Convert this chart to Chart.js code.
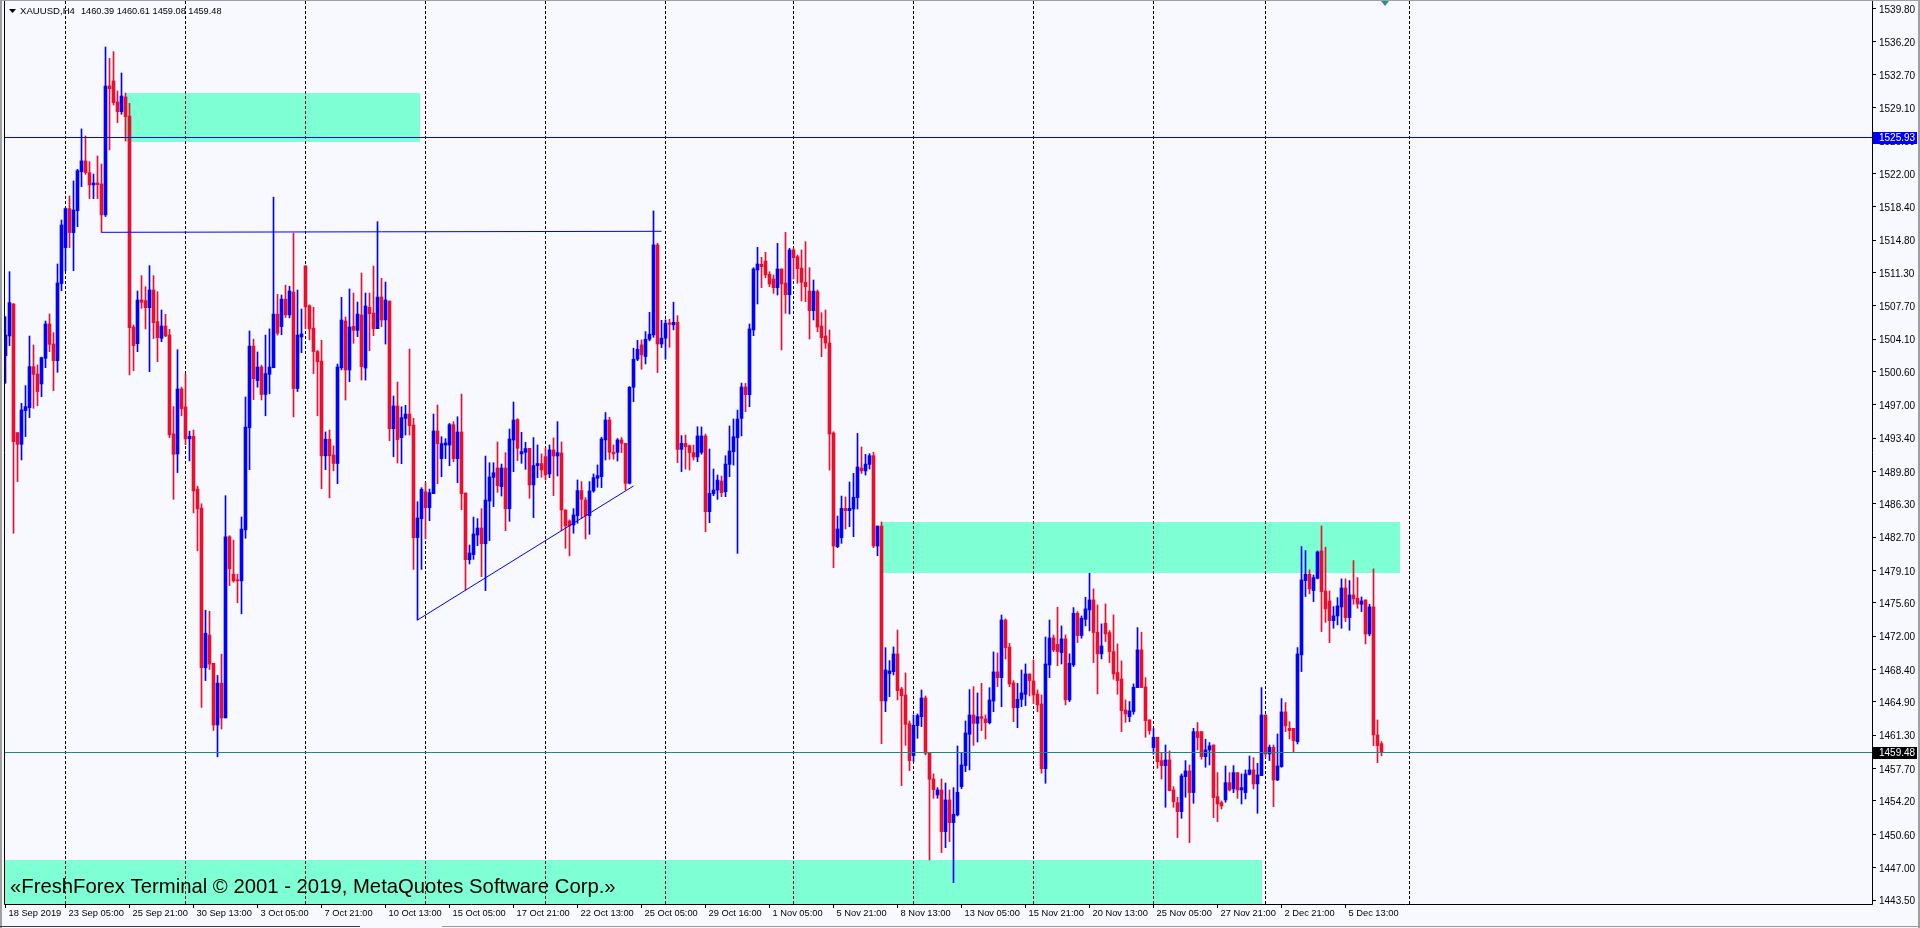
<!DOCTYPE html>
<html>
<head>
<meta charset="utf-8">
<script src="https://cdn.jsdelivr.net/npm/chart.js@4.4.0/dist/chart.umd.min.js"></script>
<style>
html, body { margin: 0; padding: 0; background: #f8f8ff; overflow: hidden; }
#c { position: absolute; left: 0; top: 0; }
</style>
</head>
<body>
<canvas id="c" width="1920" height="928"></canvas>
<script>
// --- Dados XAUUSD H4 ---
const barOpen = [
  1502.31, 1504.43, 1507.89, 1493.99, 1492.73, 1496.37, 1496.69, 1501.12, 1500.33, 1499.25,
  1502.02, 1505.73, 1503.57, 1501.77, 1510.09, 1513.98, 1518.19, 1515.60, 1517.97, 1522.19,
  1523.34, 1522.08, 1520.75, 1520.96, 1520.85, 1517.51, 1531.44, 1531.98, 1529.71, 1528.67,
  1530.25, 1528.20, 1505.40, 1503.60, 1508.32, 1508.25, 1507.49, 1509.40, 1505.98, 1504.18,
  1505.51, 1504.54, 1493.85, 1491.69, 1498.71, 1496.77, 1493.32, 1493.60, 1487.89, 1485.83,
  1468.59, 1472.12, 1469.07, 1462.41, 1466.93, 1463.17, 1482.74, 1478.70, 1478.06, 1477.98,
  1483.49, 1494.51, 1503.34, 1499.62, 1501.08, 1498.11, 1500.29, 1501.00, 1506.79, 1505.44,
  1508.41, 1506.71, 1509.17, 1498.75, 1504.33, 1511.98, 1507.70, 1505.28, 1502.75, 1501.72,
  1491.49, 1493.28, 1491.57, 1490.66, 1501.00, 1506.05, 1500.76, 1505.47, 1505.04, 1506.70,
  1500.97, 1507.53, 1506.91, 1505.22, 1508.64, 1506.16, 1508.21, 1494.42, 1496.87, 1493.45,
  1495.53, 1496.00, 1494.81, 1482.64, 1484.69, 1487.61, 1485.88, 1487.40, 1494.17, 1491.18,
  1492.65, 1492.65, 1494.85, 1491.18, 1494.06, 1487.47, 1480.27, 1480.81, 1482.93, 1483.69,
  1481.99, 1486.60, 1489.16, 1490.17, 1488.15, 1490.17, 1485.77, 1493.19, 1495.40, 1491.69,
  1491.87, 1492.30, 1488.34, 1490.43, 1490.65, 1491.40, 1489.53, 1492.12, 1491.47, 1491.80,
  1485.64, 1484.45, 1484.02, 1485.03, 1487.73, 1486.72, 1485.03, 1487.69, 1489.06, 1489.24,
  1493.20, 1495.36, 1491.87, 1491.87, 1493.20, 1492.84, 1488.52, 1498.89, 1501.92, 1503.47,
  1502.21, 1504.08, 1504.55, 1514.27, 1503.57, 1504.19, 1505.84, 1505.63, 1505.91, 1492.19,
  1492.83, 1492.58, 1491.83, 1491.36, 1491.86, 1493.63, 1485.45, 1487.40, 1487.79, 1488.76,
  1487.61, 1490.56, 1491.93, 1493.45, 1495.53, 1498.92, 1498.09, 1505.08, 1511.56, 1512.17,
  1512.53, 1511.09, 1510.59, 1509.65, 1511.67, 1510.15, 1508.89, 1513.72, 1513.00, 1511.77,
  1510.23, 1509.29, 1507.17, 1509.22, 1505.51, 1504.43, 1503.67, 1493.95, 1481.67, 1482.64,
  1485.81, 1485.56, 1485.74, 1486.96, 1490.17, 1489.85, 1490.56, 1491.50, 1481.74, 1483.90,
  1465.00, 1467.96, 1468.17, 1470.08, 1466.30, 1465.65, 1462.55, 1459.10, 1462.34, 1463.31,
  1465.33, 1459.35, 1456.58, 1454.85, 1455.39, 1450.89, 1454.31, 1451.86, 1452.69, 1455.75,
  1458.02, 1461.40, 1463.49, 1462.59, 1463.31, 1463.06, 1462.66, 1465.00, 1468.14, 1467.52,
  1473.75, 1470.84, 1466.95, 1464.28, 1465.18, 1465.72, 1467.92, 1467.16, 1465.76, 1464.68,
  1457.69, 1468.89, 1471.81, 1471.13, 1470.23, 1471.71, 1465.12, 1468.90, 1474.48, 1472.07,
  1473.83, 1474.84, 1475.92, 1472.43, 1470.09, 1473.40, 1472.39, 1470.34, 1468.07, 1467.38,
  1464.03, 1463.31, 1463.86, 1466.45, 1470.52, 1466.52, 1462.96, 1459.97, 1461.08, 1458.56,
  1458.02, 1458.63, 1455.39, 1454.02, 1453.05, 1456.83, 1457.45, 1455.11, 1461.69, 1461.69,
  1458.99, 1459.71, 1460.25, 1454.67, 1454.02, 1454.31, 1456.18, 1455.50, 1457.26, 1455.39,
  1455.10, 1457.08, 1457.55, 1456.04, 1456.94, 1463.49, 1459.28, 1460.00, 1456.47, 1457.91,
  1463.82, 1462.05, 1462.05, 1460.61, 1469.98, 1478.01, 1478.69, 1476.93, 1478.26, 1481.21,
  1476.89, 1475.81, 1473.68, 1474.19, 1475.16, 1477.21, 1474.01, 1476.46, 1476.10, 1475.45,
  1475.92, 1472.24, 1475.16, 1461.33, 1460.39
];
const barHigh = [
  1506.52, 1511.38, 1507.95, 1494.00, 1497.16, 1499.07, 1504.43, 1503.46, 1501.30, 1502.15,
  1506.05, 1506.81, 1504.79, 1512.21, 1516.96, 1518.25, 1519.56, 1521.18, 1522.44, 1526.80,
  1526.04, 1523.27, 1521.93, 1523.88, 1523.01, 1535.65, 1534.43, 1535.15, 1530.90, 1532.84,
  1530.68, 1529.57, 1505.62, 1509.29, 1510.95, 1509.76, 1512.03, 1510.95, 1509.22, 1507.24,
  1506.77, 1505.15, 1496.80, 1502.95, 1498.90, 1500.29, 1494.15, 1494.27, 1488.21, 1486.31,
  1474.81, 1474.70, 1469.07, 1467.76, 1470.06, 1487.18, 1482.86, 1482.38, 1478.70, 1484.88,
  1497.84, 1504.97, 1504.09, 1502.71, 1501.28, 1504.53, 1505.20, 1519.43, 1508.93, 1508.85,
  1509.92, 1509.80, 1515.54, 1509.40, 1507.34, 1512.06, 1507.80, 1507.54, 1502.87, 1503.97,
  1494.07, 1494.27, 1492.56, 1501.40, 1508.61, 1506.48, 1509.51, 1509.07, 1508.10, 1511.23,
  1509.07, 1509.07, 1511.99, 1516.78, 1510.66, 1510.26, 1508.21, 1497.95, 1499.46, 1496.79,
  1496.94, 1503.02, 1495.53, 1486.53, 1488.04, 1488.58, 1487.90, 1496.00, 1496.97, 1493.55,
  1493.34, 1494.99, 1495.17, 1495.71, 1498.16, 1487.47, 1481.85, 1484.87, 1484.70, 1485.77,
  1491.46, 1490.74, 1490.74, 1492.98, 1490.60, 1491.82, 1494.38, 1497.30, 1495.50, 1494.03,
  1492.95, 1492.30, 1493.46, 1492.66, 1491.69, 1492.30, 1492.66, 1493.42, 1495.18, 1492.99,
  1485.64, 1484.56, 1485.78, 1488.88, 1488.70, 1486.97, 1488.70, 1489.53, 1490.50, 1493.49,
  1496.16, 1495.65, 1492.66, 1493.35, 1493.46, 1492.84, 1498.97, 1503.11, 1503.97, 1504.01,
  1504.91, 1506.99, 1517.94, 1514.45, 1506.13, 1506.17, 1506.24, 1508.08, 1506.63, 1493.67,
  1493.73, 1492.65, 1492.65, 1494.63, 1494.60, 1493.84, 1492.22, 1490.06, 1489.41, 1489.30,
  1491.50, 1494.71, 1495.46, 1496.43, 1499.35, 1499.31, 1505.73, 1511.81, 1514.01, 1512.93,
  1513.47, 1511.38, 1511.02, 1514.44, 1511.67, 1515.63, 1513.90, 1513.90, 1513.18, 1513.72,
  1514.62, 1511.81, 1510.48, 1509.40, 1506.95, 1507.24, 1505.08, 1494.09, 1484.98, 1487.14,
  1487.04, 1488.66, 1489.59, 1493.91, 1492.44, 1491.65, 1491.72, 1491.86, 1483.90, 1484.34,
  1470.76, 1469.36, 1470.84, 1472.67, 1466.48, 1468.03, 1462.84, 1463.49, 1463.60, 1466.19,
  1465.54, 1459.35, 1457.12, 1455.64, 1456.58, 1456.14, 1455.39, 1455.64, 1460.14, 1459.42,
  1462.84, 1466.23, 1466.55, 1465.87, 1466.91, 1463.49, 1466.44, 1470.30, 1470.19, 1474.29,
  1473.86, 1471.23, 1467.20, 1466.91, 1468.35, 1469.00, 1467.92, 1469.43, 1466.19, 1465.65,
  1471.92, 1473.75, 1472.13, 1475.13, 1473.11, 1472.14, 1470.09, 1475.09, 1474.66, 1474.19,
  1476.21, 1478.80, 1477.11, 1475.38, 1473.33, 1475.49, 1472.61, 1474.30, 1471.17, 1469.33,
  1465.12, 1464.94, 1466.84, 1472.93, 1472.43, 1467.53, 1462.96, 1462.05, 1461.08, 1459.35,
  1460.25, 1459.61, 1455.75, 1454.60, 1457.12, 1458.56, 1458.09, 1462.05, 1462.67, 1461.69,
  1460.87, 1460.51, 1460.25, 1457.26, 1454.20, 1457.98, 1457.26, 1458.02, 1457.26, 1457.12,
  1457.55, 1459.06, 1458.88, 1458.27, 1466.45, 1463.49, 1460.25, 1460.25, 1461.44, 1465.26,
  1464.83, 1462.77, 1462.05, 1470.77, 1481.68, 1481.25, 1479.16, 1478.62, 1481.21, 1483.91,
  1481.61, 1476.89, 1475.20, 1476.17, 1478.19, 1478.19, 1478.01, 1480.17, 1478.33, 1476.24,
  1475.92, 1475.45, 1479.27, 1462.95, 1460.61
];
const barLow = [
  1499.32, 1503.39, 1483.12, 1488.70, 1491.04, 1493.56, 1495.61, 1496.62, 1496.91, 1497.88,
  1501.01, 1502.74, 1498.53, 1500.51, 1509.33, 1511.49, 1513.98, 1511.49, 1516.24, 1520.57,
  1521.90, 1519.27, 1519.27, 1519.27, 1515.63, 1517.33, 1524.53, 1529.39, 1527.48, 1528.38,
  1525.50, 1500.22, 1500.69, 1502.74, 1507.42, 1505.19, 1500.58, 1504.15, 1501.66, 1503.82,
  1504.36, 1493.45, 1486.79, 1489.67, 1495.81, 1492.69, 1490.94, 1485.32, 1481.23, 1464.31,
  1467.21, 1468.40, 1461.82, 1458.97, 1461.98, 1463.17, 1477.47, 1477.83, 1475.61, 1474.42,
  1482.58, 1489.99, 1497.56, 1498.90, 1497.52, 1495.81, 1498.19, 1501.00, 1504.53, 1504.57,
  1506.43, 1506.39, 1495.69, 1498.43, 1502.63, 1505.24, 1504.02, 1500.37, 1495.81, 1487.93,
  1489.99, 1486.94, 1489.87, 1488.48, 1500.77, 1497.51, 1499.49, 1503.64, 1504.36, 1499.67,
  1499.67, 1502.84, 1504.46, 1505.22, 1505.44, 1503.56, 1493.12, 1491.39, 1490.71, 1490.64,
  1493.73, 1493.73, 1479.22, 1473.75, 1479.22, 1482.50, 1484.48, 1487.40, 1488.48, 1489.23,
  1491.18, 1490.42, 1490.85, 1488.58, 1485.67, 1476.99, 1479.80, 1480.30, 1481.78, 1478.43,
  1476.92, 1482.32, 1485.99, 1487.54, 1487.14, 1483.40, 1484.41, 1489.77, 1490.97, 1490.68,
  1490.03, 1486.90, 1484.81, 1489.13, 1489.17, 1488.88, 1489.13, 1487.19, 1489.31, 1483.41,
  1481.50, 1480.67, 1483.12, 1484.20, 1484.74, 1482.51, 1483.01, 1487.55, 1488.09, 1488.05,
  1491.04, 1491.11, 1491.11, 1490.93, 1491.83, 1487.80, 1488.45, 1497.34, 1501.77, 1500.84,
  1501.41, 1503.90, 1504.29, 1500.48, 1503.18, 1501.92, 1503.21, 1505.09, 1490.75, 1489.78,
  1490.06, 1489.95, 1491.03, 1490.85, 1491.65, 1483.29, 1484.26, 1487.18, 1486.78, 1487.07,
  1487.07, 1489.23, 1490.49, 1480.95, 1493.63, 1496.26, 1496.79, 1504.46, 1507.89, 1509.65,
  1510.73, 1509.76, 1509.04, 1508.86, 1502.92, 1506.88, 1506.81, 1510.59, 1510.12, 1508.21,
  1508.14, 1504.10, 1506.16, 1504.90, 1502.20, 1503.10, 1489.95, 1479.40, 1481.56, 1482.03,
  1483.58, 1483.83, 1482.75, 1485.74, 1489.59, 1489.41, 1490.06, 1481.56, 1480.70, 1460.39,
  1463.85, 1465.47, 1467.81, 1465.11, 1455.86, 1460.21, 1457.48, 1458.45, 1460.97, 1462.23,
  1459.17, 1447.83, 1454.49, 1454.49, 1448.62, 1449.16, 1449.81, 1445.38, 1452.58, 1455.53,
  1457.37, 1457.55, 1460.21, 1460.57, 1461.80, 1460.90, 1462.52, 1463.85, 1466.55, 1464.39,
  1469.54, 1466.55, 1462.77, 1462.12, 1464.39, 1464.50, 1465.54, 1464.75, 1463.85, 1457.19,
  1456.11, 1467.52, 1470.33, 1468.82, 1469.00, 1464.58, 1464.94, 1468.72, 1471.31, 1471.78,
  1473.11, 1472.57, 1469.15, 1465.76, 1469.55, 1471.42, 1469.15, 1467.35, 1465.73, 1461.69,
  1462.70, 1462.77, 1463.57, 1466.45, 1466.45, 1461.08, 1461.41, 1459.25, 1457.73, 1456.58,
  1453.52, 1455.29, 1453.52, 1450.24, 1452.33, 1454.60, 1449.70, 1453.95, 1459.71, 1458.71,
  1457.84, 1458.09, 1452.40, 1451.97, 1453.34, 1454.06, 1455.28, 1455.10, 1454.49, 1453.88,
  1454.42, 1457.01, 1455.50, 1452.87, 1456.94, 1458.92, 1458.56, 1453.59, 1456.40, 1457.84,
  1461.69, 1460.90, 1459.53, 1460.36, 1468.18, 1476.28, 1476.57, 1475.74, 1478.19, 1472.50,
  1473.50, 1471.31, 1472.86, 1473.22, 1472.86, 1473.58, 1472.64, 1475.45, 1475.02, 1474.66,
  1471.16, 1472.03, 1460.18, 1458.34, 1459.08
];
const barClose = [
  1504.54, 1508.03, 1493.02, 1492.73, 1496.44, 1496.80, 1501.12, 1500.29, 1498.42, 1502.09,
  1505.73, 1503.53, 1501.77, 1510.16, 1516.42, 1518.19, 1515.60, 1518.04, 1522.29, 1523.34,
  1522.08, 1520.75, 1520.96, 1520.78, 1517.51, 1531.44, 1531.15, 1529.64, 1528.67, 1530.36,
  1528.13, 1505.33, 1503.39, 1508.32, 1508.07, 1507.49, 1509.40, 1505.87, 1504.25, 1505.51,
  1504.43, 1493.74, 1491.65, 1498.71, 1496.57, 1493.32, 1493.60, 1487.69, 1485.75, 1468.59,
  1472.32, 1468.99, 1462.41, 1466.93, 1463.17, 1482.74, 1479.29, 1477.98, 1477.98, 1483.57,
  1494.59, 1503.34, 1499.82, 1501.08, 1498.11, 1500.37, 1501.08, 1506.79, 1504.73, 1508.41,
  1506.71, 1509.29, 1498.75, 1504.53, 1504.65, 1507.58, 1505.20, 1502.75, 1501.64, 1491.49,
  1493.28, 1491.49, 1490.66, 1501.08, 1506.16, 1500.76, 1505.40, 1505.04, 1506.80, 1501.12,
  1507.67, 1506.84, 1505.22, 1508.64, 1506.16, 1508.32, 1494.42, 1496.87, 1493.23, 1495.61,
  1496.00, 1494.74, 1482.64, 1484.77, 1487.86, 1485.88, 1487.50, 1494.17, 1492.80, 1492.80,
  1492.87, 1494.85, 1491.18, 1494.06, 1487.40, 1480.27, 1480.99, 1483.04, 1483.69, 1481.99,
  1486.71, 1489.20, 1489.66, 1488.26, 1490.17, 1485.77, 1493.30, 1495.35, 1492.30, 1491.94,
  1492.27, 1488.34, 1490.43, 1490.65, 1489.96, 1489.42, 1492.12, 1491.47, 1491.83, 1485.64,
  1483.91, 1483.91, 1485.10, 1487.73, 1486.79, 1485.03, 1487.69, 1489.13, 1489.35, 1493.31,
  1495.36, 1491.87, 1491.69, 1493.20, 1492.84, 1488.52, 1498.89, 1501.92, 1503.00, 1502.39,
  1504.08, 1504.62, 1514.27, 1503.57, 1504.19, 1505.81, 1505.70, 1505.91, 1492.19, 1492.84,
  1492.47, 1491.83, 1491.36, 1493.63, 1493.63, 1485.45, 1487.43, 1487.79, 1488.87, 1487.50,
  1490.60, 1492.01, 1493.55, 1495.46, 1498.92, 1498.09, 1505.19, 1511.67, 1512.21, 1511.92,
  1511.02, 1510.05, 1509.65, 1511.67, 1510.05, 1508.89, 1513.72, 1512.89, 1511.70, 1510.23,
  1509.76, 1507.17, 1509.29, 1505.40, 1504.25, 1503.67, 1493.84, 1481.74, 1483.58, 1485.81,
  1485.56, 1485.81, 1487.00, 1490.28, 1489.85, 1490.60, 1491.50, 1481.74, 1483.90, 1465.00,
  1468.35, 1468.24, 1470.08, 1466.12, 1465.58, 1462.48, 1458.56, 1462.37, 1463.42, 1465.33,
  1459.35, 1456.54, 1455.42, 1455.39, 1450.89, 1454.31, 1451.86, 1452.76, 1455.14, 1458.09,
  1461.55, 1463.49, 1462.59, 1463.31, 1463.13, 1462.66, 1465.11, 1468.14, 1467.52, 1473.75,
  1470.76, 1466.84, 1464.28, 1465.18, 1465.87, 1467.92, 1467.20, 1465.65, 1464.57, 1457.69,
  1469.00, 1471.81, 1470.51, 1470.34, 1471.71, 1465.12, 1469.08, 1474.48, 1472.07, 1473.94,
  1474.95, 1475.92, 1472.39, 1470.09, 1470.95, 1472.25, 1470.34, 1467.92, 1467.20, 1463.96,
  1463.60, 1463.93, 1466.48, 1470.52, 1466.45, 1462.88, 1461.80, 1461.08, 1458.45, 1458.02,
  1458.63, 1455.32, 1454.13, 1453.05, 1456.91, 1457.45, 1455.11, 1461.69, 1461.05, 1458.99,
  1459.71, 1460.15, 1454.56, 1453.88, 1453.66, 1456.18, 1455.39, 1457.26, 1455.39, 1455.64,
  1457.12, 1457.55, 1456.04, 1457.01, 1463.49, 1459.28, 1460.00, 1456.47, 1457.98, 1463.82,
  1462.31, 1461.80, 1460.72, 1470.08, 1478.08, 1478.69, 1477.11, 1478.33, 1481.10, 1476.82,
  1474.95, 1473.68, 1474.19, 1475.27, 1477.21, 1474.01, 1476.46, 1476.03, 1475.49, 1475.81,
  1472.24, 1475.16, 1461.33, 1460.18, 1459.48
];

// eixo do tempo: índice da barra -> rótulo
const timeTickIdx = [0, 15, 31, 47, 63, 79, 95, 111, 127, 143, 159, 175, 191, 207, 223, 239, 255, 271, 287, 303, 319, 335];
const timeTickText = ['18 Sep 2019', '23 Sep 05:00', '25 Sep 21:00', '30 Sep 13:00', '3 Oct 05:00', '7 Oct 21:00',
  '10 Oct 13:00', '15 Oct 05:00', '17 Oct 21:00', '22 Oct 13:00', '25 Oct 05:00', '29 Oct 16:00', '1 Nov 05:00',
  '5 Nov 21:00', '8 Nov 13:00', '13 Nov 05:00', '15 Nov 21:00', '20 Nov 13:00', '25 Nov 05:00', '27 Nov 21:00',
  '2 Dec 21:00', '5 Dec 13:00'];
const weekGridIdx = [15, 45, 75, 105, 135, 165, 197, 227, 257, 287, 315, 351];
const priceTicks = [1539.80, 1536.20, 1532.70, 1529.10, 1525.50, 1522.00, 1518.40, 1514.80, 1511.30, 1507.70,
  1504.10, 1500.60, 1497.00, 1493.40, 1489.80, 1486.30, 1482.70, 1479.10, 1475.60, 1472.00, 1468.40,
  1464.90, 1461.30, 1457.70, 1454.20, 1450.60, 1447.00, 1443.50];

// objetos desenhados no gráfico (barra / preço)
const levelPrice = 1525.93;
const zones = [
  { from: 30, to: 103.6, top: 1530.68, bottom: 1525.42 },
  { from: 219, to: 348.5, top: 1484.34, bottom: 1478.86 },
  { from: -5, to: 314, top: 1447.83, bottom: 1440.00 }
];
const trendLines = [
  { x1: 24, y1: 1515.63, x2: 164, y2: 1515.74 },
  { x1: 103, y1: 1473.75, x2: 157, y2: 1488.23 }
];
const footerText = '\u00abFreshForex Terminal \u00a9 2001 - 2019, MetaQuotes Software Corp.\u00bb';

// --- Estilo ---
const BG = '#f8f8ff';
const BULL = '#0000ff';
const BEAR = '#e8102e';
const ZONE = '#7fffd4';
const BID = '#20877d';
const FONT = '"Liberation Sans", Arial, sans-serif';

Chart.defaults.font.family = FONT;
Chart.defaults.font.size = 10;
Chart.defaults.color = '#000';

const idx = barOpen.map((_, i) => i);
const last = barOpen.length - 1;
const candleColor = idx.map(i => barClose[i] >= barOpen[i] ? BULL : BEAR);

const overlay = {
    id: 'overlay',
    beforeDraw(chart) {
        const { ctx, width, height } = chart;
        ctx.save();
        ctx.fillStyle = BG;
        ctx.fillRect(0, 0, width, height);
        ctx.restore();
    },
    beforeDatasetsDraw(chart) {
        const { ctx, chartArea: a, scales: { x, y } } = chart;
        ctx.save();
        ctx.beginPath();
        ctx.rect(a.left, a.top, a.right - a.left, a.bottom - a.top);
        ctx.clip();

        const boxes = zones.map(z => {
            const x1 = Math.round(x.getPixelForValue(z.from));
            const x2 = Math.round(x.getPixelForValue(z.to));
            const y1 = Math.round(y.getPixelForValue(z.top));
            const y2 = Math.round(y.getPixelForValue(z.bottom));
            return { x1, x2, y1, y2 };
        });
        ctx.fillStyle = ZONE;
        boxes.forEach(b => ctx.fillRect(b.x1, b.y1, b.x2 - b.x1, b.y2 - b.y1));

        // grade semanal pontilhada
        ctx.lineWidth = 1;
        ctx.setLineDash([3, 2]);
        weekGridIdx.forEach(g => {
            const px = Math.floor(x.getPixelForValue(g)) + 0.5;
            ctx.strokeStyle = '#000';
            ctx.beginPath();
            ctx.moveTo(px, a.top);
            ctx.lineTo(px, a.bottom);
            ctx.stroke();
            boxes.forEach(b => {
                if (px > b.x1 && px < b.x2) {
                    ctx.save();
                    ctx.beginPath();
                    ctx.rect(b.x1, b.y1, b.x2 - b.x1, b.y2 - b.y1);
                    ctx.clip();
                    ctx.strokeStyle = '#8a0a14';
                    ctx.beginPath();
                    ctx.moveTo(px, a.top);
                    ctx.lineTo(px, a.bottom);
                    ctx.stroke();
                    ctx.restore();
                }
            });
        });
        ctx.restore();
    },
    afterDatasetsDraw(chart) {
        const { ctx, chartArea: a, scales: { x, y } } = chart;
        ctx.save();
        ctx.beginPath();
        ctx.rect(a.left, a.top, a.right - a.left, a.bottom - a.top);
        ctx.clip();
        ctx.lineWidth = 1;

        // linha horizontal
        let py = Math.round(y.getPixelForValue(levelPrice)) + 0.5;
        ctx.strokeStyle = BULL;
        ctx.beginPath(); ctx.moveTo(a.left, py); ctx.lineTo(a.right, py); ctx.stroke();

        // linha do bid
        py = Math.round(y.getPixelForValue(barClose[last])) + 0.5;
        ctx.strokeStyle = BID;
        ctx.beginPath(); ctx.moveTo(a.left, py); ctx.lineTo(a.right, py); ctx.stroke();

        // linhas de tendência
        ctx.strokeStyle = BULL;
        trendLines.forEach(t => {
            ctx.beginPath();
            ctx.moveTo(x.getPixelForValue(t.x1), y.getPixelForValue(t.y1));
            ctx.lineTo(x.getPixelForValue(t.x2), y.getPixelForValue(t.y2));
            ctx.stroke();
        });

        // texto
        ctx.fillStyle = '#000';
        ctx.font = '20.3px ' + FONT;
        ctx.textBaseline = 'middle';
        ctx.textAlign = 'left';
        ctx.fillText(footerText, 10, 887);
        ctx.restore();
    },
    afterDraw(chart) {
        const { ctx, chartArea: a, scales: { y }, width, height } = chart;
        ctx.save();
        // moldura
        ctx.strokeStyle = '#000';
        ctx.lineWidth = 1;
        ctx.beginPath();
        ctx.moveTo(a.left + 0.5, 0);
        ctx.lineTo(a.left + 0.5, a.bottom + 0.5);
        ctx.lineTo(a.right + 0.5, a.bottom + 0.5);
        ctx.lineTo(a.right + 0.5, 0);
        ctx.stroke();
        // borda da janela
        ctx.fillStyle = '#a0a0a0';
        ctx.fillRect(0, 0, 2, height);
        ctx.fillRect(0, 0, width, 1);
        ctx.fillRect(width - 2, 0, 2, height);
        ctx.fillStyle = '#3a3a3a';
        ctx.fillRect(0, height - 2, 360, 1);
        ctx.fillStyle = '#9a9a9a';
        ctx.fillRect(442, height - 2, width - 442, 1);

        // caixas de preço no eixo
        ctx.font = '10px ' + FONT;
        ctx.textBaseline = 'middle';
        ctx.textAlign = 'left';
        [[levelPrice, BULL], [barClose[last], '#000']].forEach(([p, c]) => {
            const py = Math.round(y.getPixelForValue(p));
            ctx.fillStyle = c;
            ctx.fillRect(a.right + 1, py - 5, 44, 12);
            ctx.fillStyle = '#fff';
            ctx.fillText(p.toFixed(2), a.right + 7, py + 1.5);
        });

        // cabeçalho
        ctx.fillStyle = '#000';
        ctx.beginPath();
        ctx.moveTo(9, 9); ctx.lineTo(16, 9); ctx.lineTo(12.5, 13); ctx.closePath();
        ctx.fill();
        ctx.font = '9.6px ' + FONT;
        ctx.fillText('XAUUSD,H4', 20, 11.5);
        const vals = [barOpen[last], barHigh[last], barLow[last], barClose[last]].map(v => v.toFixed(2)).join(' ');
        ctx.font = '9.2px ' + FONT;
        ctx.fillText(vals, 81, 11.5);

        // marcador de deslocamento
        ctx.fillStyle = '#2f8f86';
        ctx.beginPath();
        ctx.moveTo(1381, 1); ctx.lineTo(1389, 1); ctx.lineTo(1385, 6); ctx.closePath();
        ctx.fill();
        ctx.restore();
    }
};

new Chart(document.getElementById('c'), {
    type: 'bar',
    data: {
        datasets: [
            {
                label: 'wick',
                data: idx.map(i => ({ x: i, y: [barLow[i], barHigh[i]] })),
                backgroundColor: candleColor,
                barThickness: 1,
                grouped: false,
                borderWidth: 0,
                minBarLength: 1
            },
            {
                label: 'body',
                data: idx.map(i => ({ x: i, y: [Math.min(barOpen[i], barClose[i]), Math.max(barOpen[i], barClose[i])] })),
                backgroundColor: candleColor,
                barThickness: 3,
                grouped: false,
                borderWidth: 0,
                minBarLength: 1
            }
        ]
    },
    options: {
        responsive: false,
        animation: false,
        events: [],
        layout: { padding: { left: 4, top: 1, right: 0, bottom: 0 } },
        plugins: { legend: { display: false }, tooltip: { enabled: false } },
        scales: {
            x: {
                type: 'linear',
                position: 'bottom',
                min: -0.375,
                max: 466.625,
                offset: false,
                grid: { display: true, drawOnChartArea: false, drawTicks: true, tickLength: 4, color: '#000', offset: false },
                border: { display: false },
                ticks: {
                    autoSkip: false, maxRotation: 0, minRotation: 0, align: 'start', labelOffset: 3, padding: 0,
                    color: '#000', font: { size: 9.3 },
                    callback: v => { const k = timeTickIdx.indexOf(v); return k >= 0 ? timeTickText[k] : ''; }
                },
                afterBuildTicks: s => { s.ticks = timeTickIdx.map(v => ({ value: v })); },
                afterFit: s => { s.height = 24; s.paddingLeft = 0; s.paddingRight = 0; }
            },
            y: {
                type: 'linear',
                position: 'right',
                min: 1443.07,
                max: 1540.62,
                beginAtZero: false,
                grid: { drawOnChartArea: false, drawTicks: true, tickLength: 4, color: '#000' },
                border: { display: false },
                ticks: { color: '#000', font: { size: 10 }, padding: 3, labelOffset: 1.5, callback: v => v.toFixed(2) },
                afterBuildTicks: s => { s.ticks = priceTicks.map(v => ({ value: v })); },
                afterFit: s => { s.width = 48; s.paddingTop = 0; s.paddingBottom = 0; }
            }
        }
    },
    plugins: [overlay]
});
</script>
</body>
</html>
